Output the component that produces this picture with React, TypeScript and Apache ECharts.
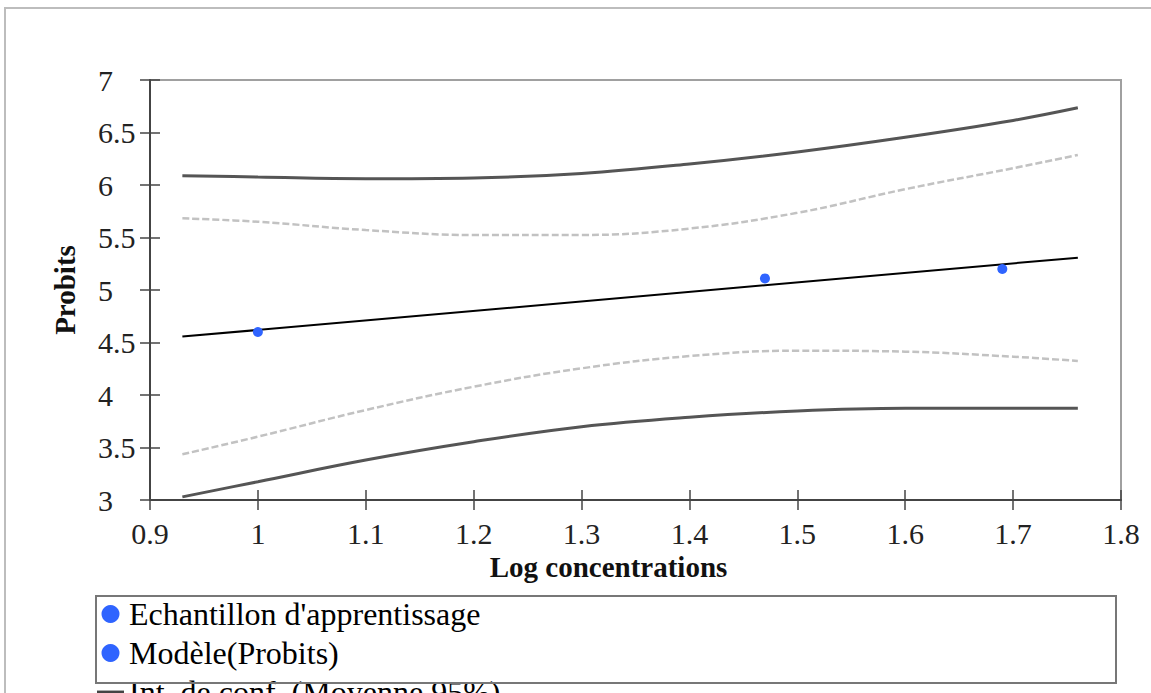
import React, { useEffect, useRef } from "react";
import * as echarts from "echarts";

const sampleX = [1.0, 1.47, 1.69];
const sampleY = [4.6, 5.11, 5.2];

const modelX = [0.93, 1.76];
const modelY = [4.556, 5.308];

const ciX = [0.93, 1.0, 1.1, 1.2, 1.3, 1.4, 1.5, 1.6, 1.7, 1.76];
const upperMean = [6.089, 6.076, 6.06, 6.067, 6.11, 6.2, 6.315, 6.455, 6.615, 6.735];
const upperObs = [5.683, 5.65, 5.571, 5.524, 5.524, 5.585, 5.735, 5.96, 6.16, 6.286];
const lowerObs = [3.435, 3.603, 3.857, 4.079, 4.254, 4.371, 4.422, 4.413, 4.365, 4.324];
const lowerMean = [3.03, 3.174, 3.381, 3.555, 3.698, 3.788, 3.848, 3.873, 3.873, 3.873];

const SAMPLE = "Echantillon d'apprentissage";
const MODEL = "Modèle(Probits)";
const CI_MEAN = "Int. de conf. (Moyenne 95%)";
const CI_OBS = "Int. de conf. (Obs. 95%)";

const FONT = "'Liberation Serif', 'Times New Roman', serif";
const BLUE = "#2f64ff";

const pairs = (xs: number[], ys: number[]) => xs.map((x, i) => [x, ys[i]]);

export default function App() {
  const ref = useRef<HTMLDivElement>(null);
  useEffect(() => {
    if (!ref.current) return;
    const chart = echarts.init(ref.current, undefined, { renderer: "svg" });
    const fmt = (v: number) => String(+(+v).toFixed(2));
    chart.setOption({
      animation: false,
      backgroundColor: "#fff",
      grid: {
        left: 150,
        top: 80,
        right: 30,
        bottom: 193,
        show: true,
        borderColor: "#a0a0a0",
        borderWidth: 2,
      },
      xAxis: [
        {
          type: "value",
          min: 0.9,
          max: 1.8,
          interval: 0.1,
          position: "bottom",
          name: "Log concentrations",
          nameLocation: "middle",
          nameGap: 51,
          nameTextStyle: {
            fontFamily: FONT,
            fontWeight: "bold",
            fontSize: 29,
            color: "#111",
            padding: [0, 54, 0, 0],
          },
          axisLine: { show: true, lineStyle: { color: "#444", width: 2 } },
          axisTick: { show: true, length: 10, lineStyle: { color: "#444", width: 1.5 } },
          axisLabel: {
            fontFamily: FONT,
            fontSize: 30,
            color: "#222",
            margin: 18,
            formatter: fmt,
          },
          splitLine: { show: false },
        },
        {
          type: "value",
          min: 0.9,
          max: 1.8,
          interval: 0.1,
          position: "bottom",
          axisLine: { show: false },
          axisTick: { show: true, inside: true, length: 10, lineStyle: { color: "#444", width: 1.5 } },
          axisLabel: { show: false },
          splitLine: { show: false },
        },
      ],
      yAxis: [
        {
          type: "value",
          min: 3,
          max: 7,
          interval: 0.5,
          position: "left",
          name: "Probits",
          nameLocation: "middle",
          nameGap: 71,
          nameTextStyle: {
            fontFamily: FONT,
            fontWeight: "bold",
            fontSize: 29,
            color: "#111",
          },
          axisLine: { show: true, lineStyle: { color: "#444", width: 2 } },
          axisTick: { show: true, length: 10, lineStyle: { color: "#444", width: 1.5 } },
          axisLabel: {
            fontFamily: FONT,
            fontSize: 30,
            color: "#222",
            align: "left",
            margin: 52,
            formatter: fmt,
          },
          splitLine: { show: false },
        },
        {
          type: "value",
          min: 3,
          max: 7,
          interval: 0.5,
          position: "left",
          axisLine: { show: false },
          axisTick: { show: true, inside: true, length: 10, lineStyle: { color: "#444", width: 1.5 } },
          axisLabel: { show: false },
          splitLine: { show: false },
        },
      ],
      legend: {
        orient: "vertical",
        left: 97,
        top: 598,
        height: 300,
        padding: 0,
        itemGap: 7,
        itemWidth: 27,
        itemHeight: 18,
        symbolKeepAspect: true,
        textStyle: { fontFamily: FONT, fontSize: 32, lineHeight: 31, color: "#000" },
        data: [
          { name: SAMPLE, icon: "circle", itemStyle: { color: BLUE, opacity: 1 } },
          { name: MODEL, icon: "circle", itemStyle: { color: BLUE, opacity: 1 } },
          { name: CI_MEAN, icon: "path://M0,0 L28,0 L28,3 L0,3 Z", itemStyle: { color: "#444" } },
        ],
      },
      graphic: [
        {
          type: "rect",
          shape: { x: 5, y: 8, width: 1300, height: 900 },
          style: { fill: "none", stroke: "#bdbdbd", lineWidth: 2 },
          silent: true,
          z: 0,
        },
        {
          type: "rect",
          shape: { x: 96, y: 596, width: 1020, height: 87 },
          style: { fill: "none", stroke: "#777", lineWidth: 2 },
          silent: true,
          z: 20,
        },
      ],
      series: [
        {
          name: CI_MEAN,
          type: "line",
          data: pairs(ciX, upperMean),
          smooth: 0.4,
          symbol: "none",
          lineStyle: { color: "#555", width: 3 },
          itemStyle: { color: "#555" },
          z: 2,
        },
        {
          name: CI_MEAN,
          type: "line",
          data: pairs(ciX, lowerMean),
          smooth: 0.4,
          symbol: "none",
          lineStyle: { color: "#555", width: 3 },
          itemStyle: { color: "#555" },
          z: 2,
        },
        {
          name: CI_OBS,
          type: "line",
          data: pairs(ciX, upperObs),
          smooth: 0.4,
          symbol: "none",
          lineStyle: { color: "#c2c2c2", width: 2.5, type: [7, 3] },
          itemStyle: { color: "#c2c2c2" },
          z: 2,
        },
        {
          name: CI_OBS,
          type: "line",
          data: pairs(ciX, lowerObs),
          smooth: 0.4,
          symbol: "none",
          lineStyle: { color: "#c2c2c2", width: 2.5, type: [7, 3] },
          itemStyle: { color: "#c2c2c2" },
          z: 2,
        },
        {
          name: MODEL,
          type: "line",
          data: pairs(modelX, modelY),
          symbol: "none",
          lineStyle: { color: "#000", width: 2 },
          itemStyle: { color: "#000" },
          z: 3,
        },
        {
          name: SAMPLE,
          type: "scatter",
          data: pairs(sampleX, sampleY),
          symbol: "circle",
          symbolSize: 10,
          itemStyle: { color: BLUE, opacity: 1 },
          z: 4,
        },
      ],
    });
    return () => chart.dispose();
  }, []);
  return (
    <div
      ref={ref}
      style={{ position: "absolute", left: 0, top: 0, width: 1151, height: 693 }}
    />
  );
}
